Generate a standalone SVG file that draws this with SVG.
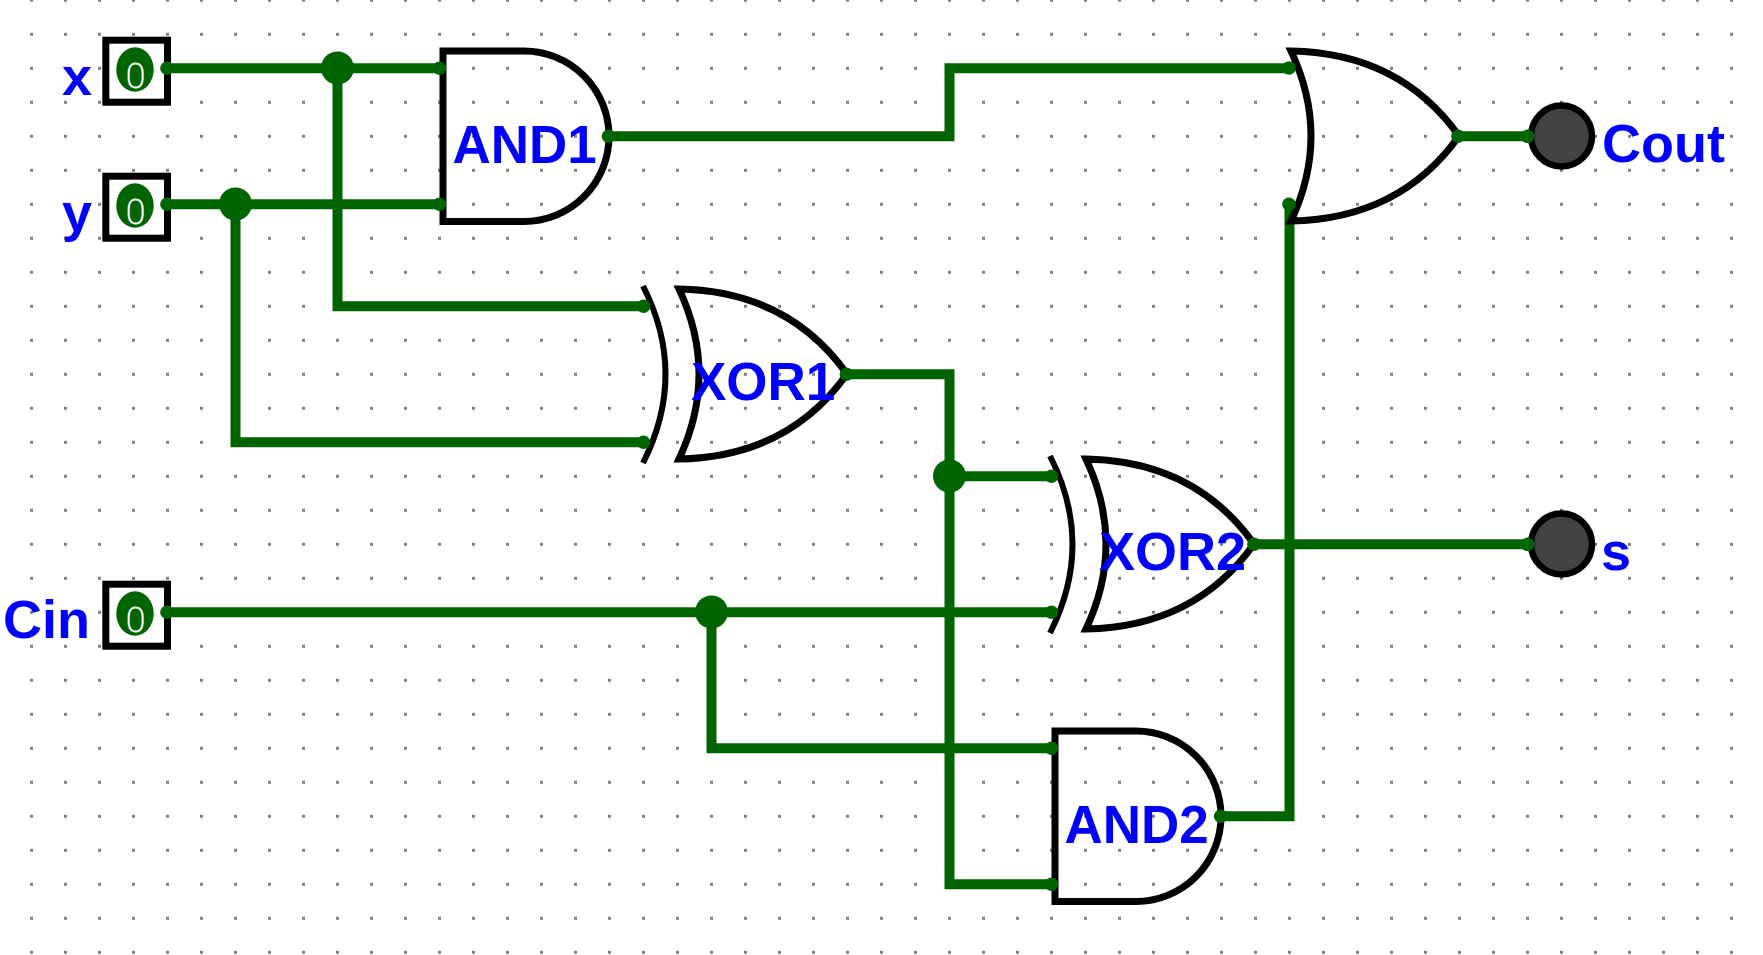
<svg xmlns="http://www.w3.org/2000/svg" width="1763" height="955" viewBox="0 0 1763 955">
<style>
.wire{fill:none;stroke:#006400;stroke-width:10;stroke-linejoin:miter}
.pin{fill:#006400}
.junction{fill:#006400}
.gate{fill:none;stroke:#000;stroke-width:7;stroke-linejoin:miter}
.back{fill:none;stroke:#000;stroke-width:6}
.box{fill:#fff;stroke:#000;stroke-width:7}
.oval{fill:#006400}
.val{font-family:"Roboto","DejaVu Sans",sans-serif;font-size:35px;font-weight:100;fill:#fff;stroke:#fff;stroke-width:0.9;text-anchor:middle}
.lbl{font-family:"Liberation Sans",Arial,sans-serif;font-size:54px;font-weight:bold;fill:#00f}
.gl{font-size:53px}
.out{fill:#424242;stroke:#000;stroke-width:6.5}
</style>
<defs>
<pattern id="grid" patternUnits="userSpaceOnUse" x="30" y="-1.2" width="34" height="34"><rect width="3" height="3" fill="#808080"/></pattern>
<circle id="p" r="6.8" class="pin"/>
<circle id="j" r="16.5" class="junction"/>
<path id="and" class="gate" d="M0 0H81A85 85.25 0 0 1 81 170.5H0Z"/>
<path id="or" class="gate" d="M0 0Q109 2 168 85Q109 168 0 170Q40 85 0 0Z"/>
<path id="xorback" class="back" d="M0 0Q45 88 0 177"/>
</defs>
<rect width="1763" height="955" fill="#fff"/>
<rect width="1763" height="955" fill="url(#grid)"/>
<g id="connectors">
<path class="wire" d="M167.5 68.3H439.5"/>
<path class="wire" d="M337.5 68.3V306.3H643.5"/>
<path class="wire" d="M167.5 204.3H439.5"/>
<path class="wire" d="M235.5 204.3V442.3H643.5"/>
<path class="wire" d="M609.5 136.3H949.5V68.3H1289.5"/>
<path class="wire" d="M847.5 374.3H949.5V884.3H1051.5"/>
<path class="wire" d="M949.5 476.3H1051.5"/>
<path class="wire" d="M167.5 612.3H1051.5"/>
<path class="wire" d="M711.5 612.3V748.3H1051.5"/>
<path class="wire" d="M1221.5 816.3H1289.5V204.3"/>
<path class="wire" d="M1459.5 136.3H1527.5"/>
<path class="wire" d="M1255.5 544.3H1527.5"/>
<use href="#j" x="337.5" y="68"/>
<use href="#j" x="235.5" y="204"/>
<use href="#j" x="949.5" y="476"/>
<use href="#j" x="711.5" y="612"/>
</g>
<g id="in-x"><rect class="box" x="105.8" y="40.2" width="61.7" height="62"/><ellipse class="oval" cx="135" cy="69.5" rx="18.7" ry="22.2"/><text class="val" x="135.5" y="88">0</text><text class="lbl" x="62" y="95">x</text><use href="#p" x="167" y="68.3"/></g>
<g id="in-y"><rect class="box" x="105.8" y="176.2" width="61.7" height="62"/><ellipse class="oval" cx="135" cy="205.5" rx="18.7" ry="22.2"/><text class="val" x="135.5" y="224">0</text><text class="lbl" x="62" y="231">y</text><use href="#p" x="167" y="204.3"/></g>
<g id="in-cin"><rect class="box" x="105.8" y="584.2" width="61.7" height="62"/><ellipse class="oval" cx="135" cy="613.5" rx="18.7" ry="22.2"/><text class="val" x="135.5" y="632">0</text><text class="lbl" x="3" y="638">Cin</text><use href="#p" x="167" y="612.3"/></g>
<g id="and1"><use href="#and" x="443" y="51"/><text class="lbl gl" x="452.5" y="162.5">AND1</text><use href="#p" x="439.5" y="68.3"/><use href="#p" x="439.5" y="204.3"/><use href="#p" x="608.5" y="136.3"/></g>
<g id="xor1"><use href="#xorback" x="643" y="286"/><use href="#or" x="679" y="289"/><text class="lbl gl" x="691" y="400">XOR1</text><use href="#p" x="643.5" y="306.3"/><use href="#p" x="643.5" y="442.3"/><use href="#p" x="846.5" y="374.3"/></g>
<g id="xor2"><use href="#xorback" x="1050" y="456"/><use href="#or" x="1086" y="459"/><text class="lbl" x="1099" y="570">XOR2</text><use href="#p" x="1051.5" y="476.3"/><use href="#p" x="1051.5" y="612.3"/><use href="#p" x="1254" y="544.3"/></g>
<g id="and2"><use href="#and" x="1055" y="731"/><text class="lbl gl" x="1064.5" y="842.5">AND2</text><use href="#p" x="1051.5" y="748.3"/><use href="#p" x="1051.5" y="884.3"/><use href="#p" x="1220.7" y="816.3"/></g>
<g id="or1"><use href="#or" x="1291" y="51"/><use href="#p" x="1289" y="68"/><use href="#p" x="1289" y="204.3"/><use href="#p" x="1458" y="136.3"/></g>
<g id="out-cout"><circle class="out" cx="1561.5" cy="136" r="30.5"/><use href="#p" x="1527.5" y="136.3"/><text class="lbl" x="1602" y="162">Cout</text></g>
<g id="out-s"><circle class="out" cx="1561.5" cy="544" r="30.5"/><use href="#p" x="1527.5" y="544.3"/><text class="lbl" x="1601" y="570">s</text></g>
</svg>
